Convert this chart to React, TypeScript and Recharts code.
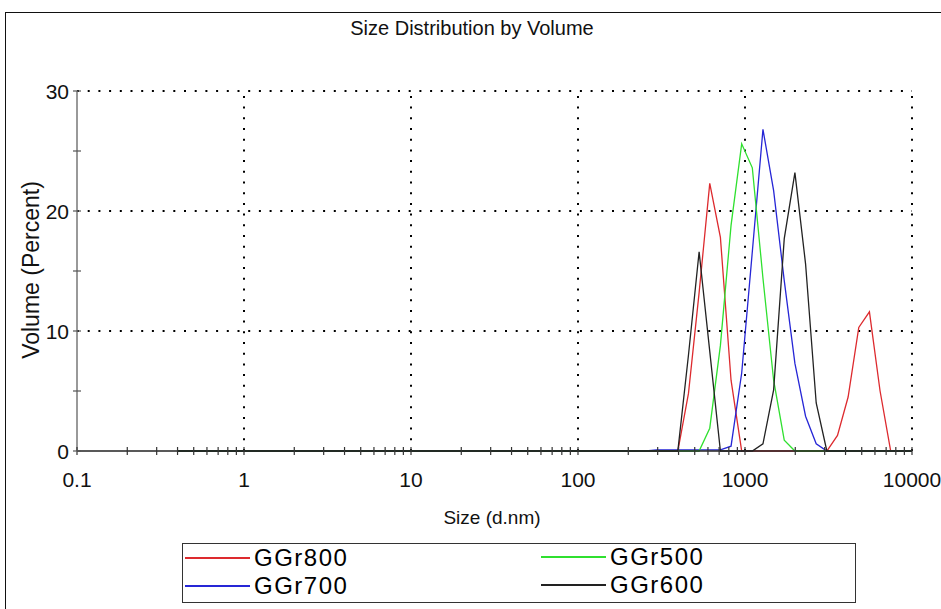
import { LineChart, Line, XAxis, YAxis, ReferenceLine } from "recharts";

// Zetasizer size classes (d.nm)
const sizes = [
  0.4, 0.4632, 0.5365, 0.6213, 0.7195, 0.8332, 0.9649, 1.117, 1.294, 1.499,
  1.736, 2.01, 2.328, 2.696, 3.122, 3.615, 4.187, 4.849, 5.615, 6.503,
  7.531, 8.721, 10.1, 11.7, 13.54, 15.69, 18.17, 21.04, 24.36, 28.21,
  32.67, 37.84, 43.82, 50.75, 58.77, 68.06, 78.82, 91.28, 105.7, 122.4,
  141.8, 164.2, 190.1, 220.2, 255.0, 295.3, 342.0, 396.1, 458.7, 531.2,
  615.1, 712.4, 825.0, 955.4, 1106, 1281, 1484, 1718, 1990, 2305,
  2669, 3091, 3580, 4145, 4801, 5560, 6439, 7456, 8635, 10000,
];

// volume % per size class
const ggr800 = [
  0, 0, 0, 0, 0, 0, 0, 0, 0, 0,
  0, 0, 0, 0, 0, 0, 0, 0, 0, 0,
  0, 0, 0, 0, 0, 0, 0, 0, 0, 0,
  0, 0, 0, 0, 0, 0, 0, 0, 0, 0,
  0, 0, 0, 0, 0, 0, 0, 0, 4.8, 13.2,
  22.3, 17.8, 5.9, 0, 0, 0, 0, 0, 0, 0,
  0, 0, 1.3, 4.5, 10.3, 11.6, 5.0, 0, 0, 0,
];
const ggr700 = [
  0, 0, 0, 0, 0, 0, 0, 0, 0, 0,
  0, 0, 0, 0, 0, 0, 0, 0, 0, 0,
  0, 0, 0, 0, 0, 0, 0, 0, 0, 0,
  0, 0, 0, 0, 0, 0, 0, 0, 0, 0,
  0, 0, 0, 0, 0, 0.1, 0.1, 0.1, 0.1, 0.1,
  0.1, 0.1, 0.4, 6.5, 16.6, 26.8, 21.7, 14.2, 7.3, 2.9,
  0.6, 0, 0, 0, 0, 0, 0, 0, 0, 0,
];
const ggr500 = [
  0, 0, 0, 0, 0, 0, 0, 0, 0, 0,
  0, 0, 0, 0, 0, 0, 0, 0, 0, 0,
  0, 0, 0, 0, 0, 0, 0, 0, 0, 0,
  0, 0, 0, 0, 0, 0, 0, 0, 0, 0,
  0, 0, 0, 0, 0, 0, 0, 0, 0, 0,
  1.9, 8.8, 18.8, 25.6, 23.6, 14.4, 5.9, 0.9, 0, 0,
  0, 0, 0, 0, 0, 0, 0, 0, 0, 0,
];
const ggr600 = [
  0, 0, 0, 0, 0, 0, 0, 0, 0, 0,
  0, 0, 0, 0, 0, 0, 0, 0, 0, 0,
  0, 0, 0, 0, 0, 0, 0, 0, 0, 0,
  0, 0, 0, 0, 0, 0, 0, 0, 0, 0,
  0, 0, 0, 0, 0, 0, 0, 0, 8.0, 16.6,
  8.3, 0, 0, 0, 0, 0.6, 5.1, 17.7, 23.2, 15.6,
  4.0, 0, 0, 0, 0, 0, 0, 0, 0, 0,
];

const xMajor = [0.1, 1, 10, 100, 1000, 10000];
const xMajorLabels = ["0.1", "1", "10", "100", "1000", "10000"];
const yTicks = [0, 5, 10, 15, 20, 25, 30];
const yLabels = [0, 10, 20, 30];
const gridY = [10, 20, 30];
const gridX = [1, 10, 100, 1000, 10000];

const series = [
  { key: "ggr800", name: "GGr800", color: "#dd2a2e", values: ggr800 },
  { key: "ggr700", name: "GGr700", color: "#2626d6", values: ggr700 },
  { key: "ggr500", name: "GGr500", color: "#2fe02f", values: ggr500 },
  { key: "ggr600", name: "GGr600", color: "#222222", values: ggr600 },
];

// minor log ticks 2..9 in each decade
const xMinor = xMajor.slice(0, -1).flatMap((d) => [2, 3, 4, 5, 6, 7, 8, 9].map((k) => k * d));
const xTicks = [...xMajor, ...xMinor].sort((a, b) => a - b);

const data = sizes.map((size, i) => {
  const row: Record<string, number> = { size };
  series.forEach((s) => (row[s.key] = s.values[i]));
  return row;
});

const FONT = '"Liberation Sans", Arial, sans-serif';

function XTick(props: any) {
  const { x, y, payload } = props;
  const idx = xMajor.findIndex((v) => Math.abs(v - payload.value) / v < 1e-6);
  return (
    <g>
      <line x1={x} x2={x} y1={y - 4} y2={y + 4} stroke="#333" strokeWidth={1.2} />
      {idx >= 0 && (
        <text x={x} y={y + 36} textAnchor="middle" fontSize={21} fontFamily={FONT} fill="#111">
          {xMajorLabels[idx]}
        </text>
      )}
    </g>
  );
}

function YTick(props: any) {
  const { x, y, payload } = props;
  const show = yLabels.includes(payload.value);
  return (
    <g>
      <line x1={x - 4} x2={x + 4} y1={y} y2={y} stroke="#555" strokeWidth={1.2} />
      {show && (
        <text x={x - 8} y={y + 7.5} textAnchor="end" fontSize={21} fontFamily={FONT} fill="#111">
          {payload.value}
        </text>
      )}
    </g>
  );
}

// legend line centre positions
const legendPos = [
  { left: 185, top: 558 },
  { left: 185, top: 586 },
  { left: 541, top: 557 },
  { left: 541, top: 585 },
];

export default function App() {
  return (
    <div
      style={{
        position: "absolute",
        left: 0,
        top: 0,
        width: 941,
        height: 609,
        overflow: "hidden",
        background: "#fff",
        fontFamily: FONT,
      }}
    >
      <div
        style={{
          position: "absolute",
          left: 5,
          top: 12,
          width: 960,
          height: 640,
          borderLeft: "1.5px solid #111",
          borderTop: "1.5px solid #111",
        }}
      />
      <div
        style={{
          position: "absolute",
          left: 272,
          top: 18,
          width: 400,
          textAlign: "center",
          fontSize: 20,
          lineHeight: "20px",
          color: "#111",
        }}
      >
        Size Distribution by Volume
      </div>

      <div style={{ position: "absolute", left: 0, top: 0 }}>
        <LineChart width={941} height={609} data={data} margin={{ top: 91, right: 29, bottom: 0, left: 0 }}>
          <XAxis
            dataKey="size"
            type="number"
            scale="log"
            domain={[0.1, 10000]}
            allowDataOverflow
            ticks={xTicks}
            interval={0}
            tick={XTick}
            tickSize={0}
            tickMargin={0}
            tickLine={false}
            axisLine={{ stroke: "#222", strokeWidth: 1.5 }}
            height={158}
          />
          <YAxis
            type="number"
            domain={[0, 30]}
            ticks={yTicks}
            interval={0}
            tick={YTick}
            tickSize={0}
            tickMargin={0}
            tickLine={false}
            axisLine={{ stroke: "#777", strokeWidth: 1.5 }}
            width={77}
          />
          {gridY.map((v) => (
            <ReferenceLine key={`gy${v}`} y={v} stroke="#000" strokeWidth={2} strokeDasharray="2 8.7" />
          ))}
          {gridX.map((v) => (
            <ReferenceLine key={`gx${v}`} x={v} stroke="#000" strokeWidth={2} strokeDasharray="2 8.7" />
          ))}
          {series.map((s) => (
            <Line
              key={s.key}
              type="linear"
              dataKey={s.key}
              name={s.name}
              stroke={s.color}
              strokeWidth={1.3}
              dot={false}
              isAnimationActive={false}
            />
          ))}
        </LineChart>
      </div>

      <div
        style={{
          position: "absolute",
          left: 492,
          top: 507,
          fontSize: 19,
          lineHeight: "22px",
          color: "#111",
          transform: "translateX(-50%)",
          whiteSpace: "nowrap",
        }}
      >
        Size (d.nm)
      </div>
      <div
        style={{
          position: "absolute",
          left: 31,
          top: 270,
          fontSize: 23,
          lineHeight: "24px",
          color: "#111",
          whiteSpace: "nowrap",
          transform: "translate(-50%, -50%) rotate(-90deg)",
        }}
      >
        Volume (Percent)
      </div>

      <div
        style={{
          position: "absolute",
          left: 182,
          top: 543,
          width: 672,
          height: 58,
          border: "1.5px solid #333",
          background: "#fff",
        }}
      />
      {series.map((s, i) => (
        <div key={s.key}>
          <div
            style={{
              position: "absolute",
              left: legendPos[i].left,
              top: legendPos[i].top - 1,
              width: 65,
              height: 1.5,
              background: s.color,
            }}
          />
          <div
            style={{
              position: "absolute",
              left: legendPos[i].left + 69,
              top: legendPos[i].top - 12,
              fontSize: 24,
              lineHeight: "24px",
              letterSpacing: 1.5,
              color: "#000",
              whiteSpace: "nowrap",
            }}
          >
            {s.name}
          </div>
        </div>
      ))}
    </div>
  );
}
